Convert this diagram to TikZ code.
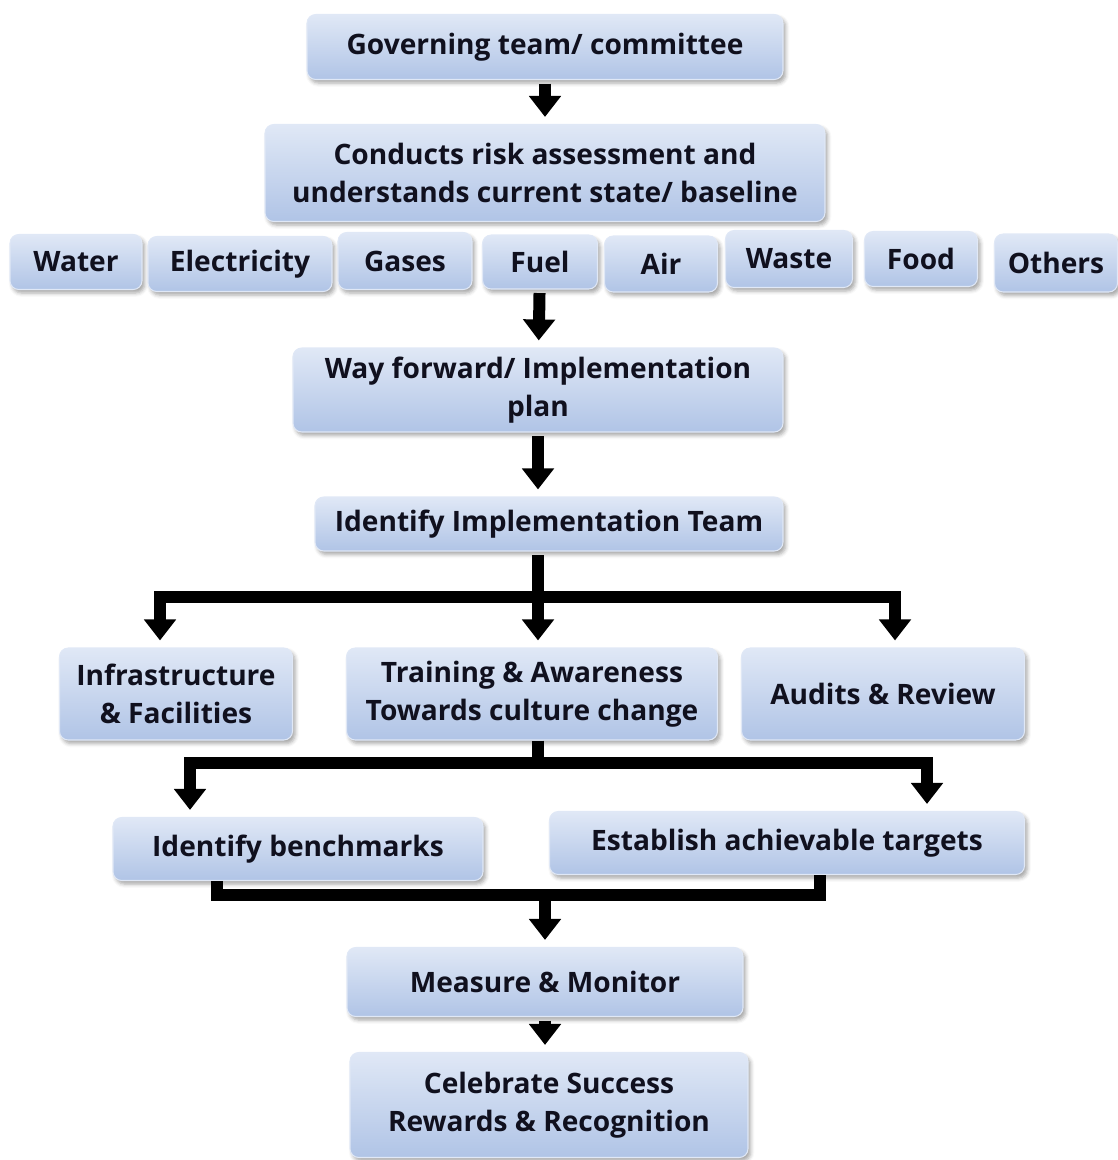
\documentclass[tikz,border=0pt]{standalone}
\usepackage{fontspec}
\setmainfont{Open Sans}
\usetikzlibrary{arrows.meta, positioning, shadows.blur, calc}
\definecolor{boxblue}{RGB}{176,196,230}
\definecolor{boxlight}{RGB}{224,232,246}
\definecolor{inkdark}{RGB}{16,16,30}

\tikzset{
  stage/.style={rounded corners=5pt, top color=boxlight, bottom color=boxblue,
    draw=boxlight, line width=0.6pt, text=inkdark, align=center,
    font=\fontsize{16}{21.5}\selectfont\bfseries, inner sep=1pt,
    blur shadow={shadow xshift=1.5pt, shadow yshift=-2pt, shadow opacity=35}},
  bw/.style={minimum width=#1*0.02cm},
  bh/.style={minimum height=#1*0.02cm},
  flow/.style={line width=0.24cm, -{Triangle[width=0.62cm,length=0.42cm]},
    shorten <=2pt, shorten >=4pt},
  bar/.style={line width=0.24cm}
}

\begin{document}
\begin{tikzpicture}[x=0.02cm, y=-0.02cm]
  \useasboundingbox (0,0) rectangle (1117,1160);

  % main column
  \node[stage, bw=476, bh=65] (gov) at (545,47) {Governing team/ committee};
  \node[stage, bw=560, bh=97] (risk) at (545,173) {Conducts risk assessment and\\understands current state/ baseline};

  % resources
  \node[stage, bw=132, bh=55] (water) at (76,262) {Water};
  \node[stage, bw=184, bh=55] (elec) at (240,264) {Electricity};
  \node[stage, bw=134, bh=57] (gases) at (405,261) {Gases};
  \node[stage, bw=115, bh=54] (fuel) at (540,262) {Fuel};
  \node[stage, bw=113, bh=56] (air) at (661,264) {Air};
  \node[stage, bw=127, bh=57] (waste) at (789,259) {Waste};
  \node[stage, bw=113, bh=55] (food) at (921,259) {Food};
  \node[stage, bw=123, bh=58] (others) at (1056,263) {Others};

  \node[stage, bw=490, bh=84] (plan) at (538,390) {Way forward/ Implementation\\plan};
  \node[stage, bw=468, bh=54] (team) at (549,524) {Identify Implementation Team};

  % three streams
  \node[stage, bw=233, bh=92] (infra) at (176,694) {Infrastructure\\\& Facilities};
  \node[stage, bw=371, bh=92] (train) at (532,694) {Training \& Awareness\\Towards culture change};
  \node[stage, bw=283, bh=92] (audit) at (883,694) {Audits \& Review};

  \node[stage, bw=370, bh=63] (bench) at (298,849) {Identify benchmarks};
  \node[stage, bw=475, bh=63] (target) at (787,843) {Establish achievable targets};

  \node[stage, bw=396, bh=69] (measure) at (545,982) {Measure \& Monitor};
  \node[stage, bw=398, bh=105] (celebrate) at (549,1105) {Celebrate Success\\Rewards \& Recognition};

  % connectors
  \coordinate (busA) at (538,597);
  \coordinate (busB) at (538,763);
  \coordinate (busC) at (545,895);

  \draw[flow] (gov) -- (risk);
  \draw[flow] (fuel) -- (plan);
  \draw[flow] (plan.south) -- (plan.south |- team.north);
  \draw[flow] (busA |- team.south) -- (busA |- train.north);
  \draw[flow] (busA) -| ($(infra.north)+(-16,0)$);
  \draw[flow] (busA) -| ($(audit.north)+(12,0)$);

  \draw[bar] (busB |- train.south) -- ($(busB)+(0,6)$);
  \draw[flow] (busB) -| ($(bench.north)+(-108,0)$);
  \draw[flow] (busB) -| ($(target.north)+(140,0)$);

  \draw[bar] ($(bench.south)+(-81,0)$) |- (busC) -| ($(target.south)+(33,0)$);
  \draw[flow] (busC) -- (busC |- measure.north);
  \draw[flow] (measure.south) -- (measure.south |- celebrate.north);
\end{tikzpicture}
\end{document}
